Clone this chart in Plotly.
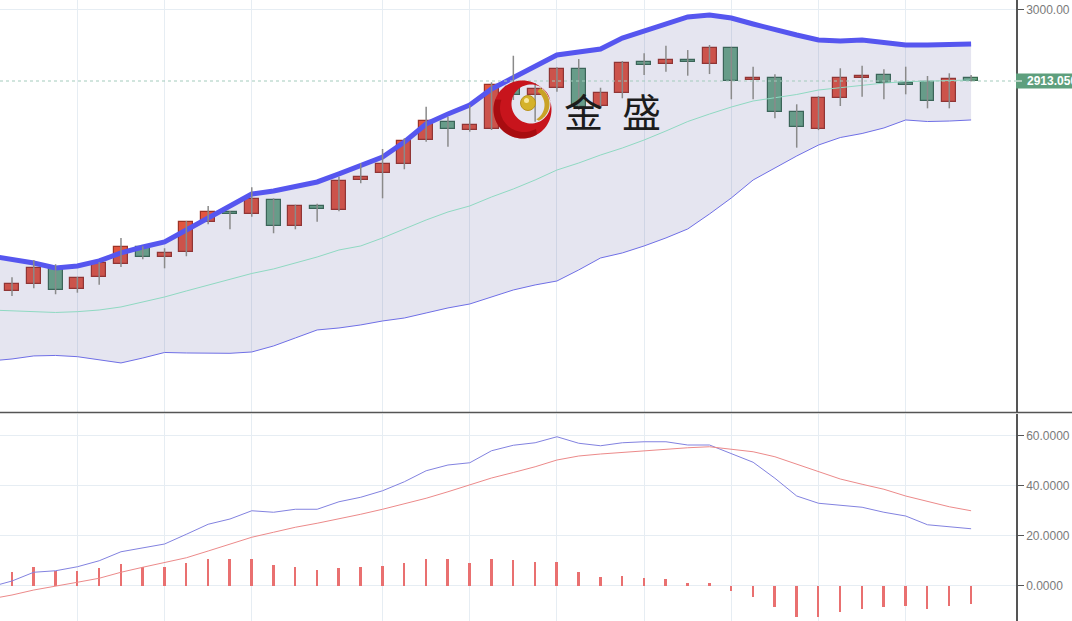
import math
import plotly.graph_objects as go
from plotly.subplots import make_subplots

# ---------------- data ----------------
opens = [2658.0, 2666.5, 2685.9, 2660.4, 2675.7, 2691.1, 2711.4, 2699.3, 2705.3, 2741.7,
         2754.2, 2751.4, 2768.4, 2737.2, 2761.5, 2756.6, 2793.0, 2801.1, 2812.0, 2841.5,
         2863.0, 2854.0, 2855.2, 2905.8, 2896.1, 2904.2, 2927.6, 2883.1, 2898.1, 2936.1,
         2933.7, 2938.5, 2933.7, 2952.7, 2914.6, 2916.3, 2875.8, 2854.5, 2892.1, 2916.3,
         2920.0, 2911.0, 2911.8, 2887.6, 2916.3]
highs = [2675.0, 2696.0, 2690.8, 2675.4, 2693.5, 2722.7, 2712.6, 2710.2, 2743.3, 2761.5,
         2755.0, 2784.1, 2770.8, 2763.0, 2764.3, 2797.0, 2813.2, 2830.6, 2843.6, 2881.9,
         2869.8, 2883.9, 2911.5, 2943.7, 2910.6, 2929.7, 2939.7, 2904.9, 2937.3, 2946.6,
         2955.9, 2950.6, 2956.7, 2953.9, 2930.4, 2921.2, 2884.8, 2894.9, 2928.5, 2931.6,
         2927.2, 2930.4, 2919.1, 2922.4, 2920.3]
lows = [2652.3, 2661.7, 2654.4, 2656.3, 2666.0, 2687.5, 2696.8, 2685.9, 2700.5, 2739.3,
        2733.2, 2748.5, 2728.4, 2733.2, 2742.4, 2755.0, 2789.0, 2770.8, 2806.0, 2839.4,
        2833.4, 2851.6, 2853.6, 2890.0, 2863.7, 2900.1, 2877.9, 2879.1, 2892.1, 2920.3,
        2924.3, 2919.5, 2921.5, 2890.9, 2890.9, 2867.8, 2832.2, 2853.5, 2882.7, 2894.0,
        2890.9, 2896.9, 2879.9, 2879.9, 2912.5]
closes = [2666.5, 2686.6, 2659.2, 2673.8, 2692.3, 2711.4, 2699.3, 2704.5, 2742.1, 2753.8,
          2751.4, 2769.6, 2737.2, 2761.5, 2757.5, 2792.1, 2797.0, 2812.0, 2840.3, 2864.9,
          2854.5, 2859.3, 2908.2, 2896.1, 2903.0, 2927.6, 2881.9, 2898.9, 2935.2, 2932.5,
          2938.5, 2935.7, 2952.7, 2913.4, 2916.3, 2875.8, 2856.9, 2892.4, 2917.1, 2918.7,
          2910.3, 2908.6, 2888.8, 2915.1, 2913.05]

# Bollinger bands (one extra value before the first candle)
boll_upper = [2700.8, 2697.2, 2692.3, 2686.3, 2688.7, 2694.8, 2704.5, 2711.7, 2717.8, 2732.4,
              2746.9, 2761.5, 2776.0, 2779.7, 2785.7, 2790.6, 2800.3, 2811.2, 2820.9, 2839.1,
              2860.9, 2873.0, 2884.0, 2903.4, 2916.7, 2930.0, 2944.6, 2948.2, 2951.9, 2965.2,
              2973.7, 2982.2, 2990.7, 2993.1, 2989.5, 2982.2, 2974.9, 2968.8, 2962.8, 2961.6,
              2962.8, 2960.4, 2956.7, 2956.7, 2957.9, 2957.9]
boll_mid = [2635.3, 2634.1, 2632.9, 2632.3, 2633.3, 2635.3, 2639.0, 2645.0, 2651.1, 2658.4,
            2665.7, 2672.9, 2679.6, 2685.1, 2692.3, 2699.6, 2708.1, 2713.0, 2722.7, 2733.6,
            2744.5, 2754.2, 2761.5, 2772.4, 2782.1, 2793.0, 2805.1, 2813.6, 2823.3, 2831.8,
            2841.5, 2852.4, 2863.9, 2873.0, 2881.5, 2888.8, 2892.4, 2896.7, 2902.1, 2905.2,
            2908.2, 2910.6, 2912.2, 2913.1, 2913.7, 2914.3]
boll_lower = [2573.5, 2575.9, 2579.6, 2580.2, 2578.7, 2574.7, 2571.1, 2577.1, 2583.8, 2583.2,
              2582.8, 2582.8, 2584.4, 2591.7, 2601.4, 2611.1, 2613.5, 2617.2, 2622.0, 2625.6,
              2631.7, 2637.8, 2642.6, 2651.1, 2659.6, 2665.7, 2670.5, 2683.9, 2698.4, 2704.5,
              2713.0, 2722.7, 2733.6, 2751.8, 2771.2, 2793.0, 2807.6, 2822.1, 2835.4, 2844.5,
              2849.4, 2856.1, 2865.8, 2863.9, 2864.5, 2865.8]

# MACD (one extra value before the first candle for the lines)
macd_dif = [-0.5, 1.9, 5.4, 6.0, 7.6, 10.0, 13.6, 15.2, 16.7, 20.6,
            24.6, 26.7, 30.0, 29.4, 30.6, 30.6, 33.6, 35.4, 38.0, 41.6,
            46.0, 48.3, 49.2, 54.0, 56.2, 57.2, 59.6, 57.0, 56.0, 57.2,
            57.6, 57.6, 56.3, 56.3, 53.0, 49.4, 43.0, 35.9, 33.0, 32.3,
            31.4, 29.4, 27.9, 24.4, 23.6, 22.8]
macd_dea = [-5.3, -3.7, -1.7, 0.0, 1.4, 3.0, 5.4, 7.4, 9.2, 11.2,
            13.9, 16.6, 19.4, 21.4, 23.4, 25.0, 26.7, 28.6, 30.6, 32.7,
            35.0, 37.6, 40.2, 43.1, 45.3, 47.6, 50.3, 51.9, 52.7, 53.4,
            54.0, 54.7, 55.2, 55.6, 54.7, 53.6, 51.6, 48.6, 45.4, 42.7,
            40.6, 38.6, 35.9, 33.6, 31.6, 30.0]
macd_hist = [5.4, 7.4, 6.0, 6.1, 7.0, 8.6, 7.6, 7.4, 9.2, 10.6,
             10.6, 10.6, 8.2, 7.4, 6.2, 7.0, 7.4, 7.9, 9.2, 10.8,
             10.6, 9.2, 10.8, 10.4, 9.4, 9.4, 5.5, 3.6, 3.9, 3.1,
             2.7, 1.2, 1.2, -2.0, -4.3, -8.5, -12.4, -12.4, -10.6, -9.2,
             -8.6, -8.2, -9.3, -8.2, -7.3]

last_price = 2913.05
grid_idx = [3, 7, 11, 17, 21, 25, 29, 33, 37, 41]

# ---------------- figure ----------------
W, H = 1072, 621
PLOT_W = 1016
candle_x = list(range(len(closes)))
line_x = list(range(-1, len(closes)))

fig = make_subplots(rows=2, cols=1, shared_xaxes=False, vertical_spacing=0)

RED_FILL, RED_LINE = "#e2553f", "#9c3326"
GRN_FILL, GRN_LINE = "#6dab88", "#3a6a50"

# band fill
fig.add_trace(go.Scatter(x=line_x, y=boll_lower, mode="lines",
                         line=dict(color="#6f6fe6", width=1), hoverinfo="skip"), row=1, col=1)
fig.add_trace(go.Scatter(x=line_x, y=boll_upper, mode="lines", fill="tonexty",
                         fillcolor="rgba(70,70,150,0.14)",
                         line=dict(color="#5656ef", width=5), hoverinfo="skip"), row=1, col=1)
fig.add_trace(go.Scatter(x=line_x, y=boll_mid, mode="lines",
                         line=dict(color="#8fd9c2", width=1), hoverinfo="skip"), row=1, col=1)

# wicks
wx, wy = [], []
for i, (h, l) in enumerate(zip(highs, lows)):
    wx += [i, i, None]
    wy += [l, h, None]
fig.add_trace(go.Scatter(x=wx, y=wy, mode="lines", line=dict(color="#8a8a8a", width=1.5),
                         hoverinfo="skip"), row=1, col=1)

# bodies
up_x, up_b, up_h, dn_x, dn_b, dn_h = [], [], [], [], [], []
for i, (o, c) in enumerate(zip(opens, closes)):
    if c >= o:
        up_x.append(i); up_b.append(o); up_h.append(max(c - o, 0.8))
    else:
        dn_x.append(i); dn_b.append(c); dn_h.append(max(o - c, 0.8))
fig.add_trace(go.Bar(x=up_x, y=up_h, base=up_b, width=0.64, opacity=1,
                     marker=dict(color=RED_FILL, line=dict(color=RED_LINE, width=1.2)),
                     hoverinfo="skip"), row=1, col=1)
fig.add_trace(go.Bar(x=dn_x, y=dn_h, base=dn_b, width=0.64, opacity=1,
                     marker=dict(color=GRN_FILL, line=dict(color=GRN_LINE, width=1.2)),
                     hoverinfo="skip"), row=1, col=1)

# MACD
fig.add_trace(go.Bar(x=candle_x, y=macd_hist, width=0.09, opacity=1,
                     marker=dict(color="#e97070", line=dict(width=0)), hoverinfo="skip"),
              row=2, col=1)
fig.add_trace(go.Scatter(x=line_x, y=macd_dif, mode="lines",
                         line=dict(color="#8282e0", width=1), hoverinfo="skip"), row=2, col=1)
fig.add_trace(go.Scatter(x=line_x, y=macd_dea, mode="lines",
                         line=dict(color="#ec8a8a", width=1), hoverinfo="skip"), row=2, col=1)

xr = [-0.55, 46.06]
axis_font = dict(family="Liberation Sans, Arial, sans-serif", size=12, color="#7a7a7a")
for r in (1, 2):
    fig.update_xaxes(range=xr, tickvals=grid_idx, showticklabels=False, ticks="",
                     showgrid=True, gridcolor="#e6edf3", gridwidth=1, zeroline=False,
                     showline=False, row=r, col=1)

fig.update_layout(
    width=W, height=H, margin=dict(l=0, r=W - PLOT_W, t=0, b=0),
    paper_bgcolor="white", plot_bgcolor="white", showlegend=False,
    barmode="overlay", bargap=0,
    font=axis_font,
    yaxis=dict(domain=[(H - 412) / H, 1], range=[2511.6, 3011.3], side="right",
               tick0=0, dtick=500, tickformat=".2f", ticks="outside", ticklen=6,
               tickcolor="#555", showline=True, linecolor="#555", linewidth=1.5,
               showgrid=True, gridcolor="#e6edf3", zeroline=False, tickfont=axis_font),
    yaxis2=dict(domain=[0, (H - 414) / H], range=[-14.1, 68.7], side="right",
                tickvals=[0, 20, 40, 60], tickformat=".4f", ticks="outside", ticklen=6,
                tickcolor="#555", showline=True, linecolor="#555", linewidth=1.5,
                showgrid=True, gridcolor="#e6edf3", zeroline=False, tickfont=axis_font),
)


def px(x):
    return x / PLOT_W


def py(y):
    return (H - y) / H


def arc(cx, cy, r, a0, a1, n=48):
    pts = []
    for k in range(n + 1):
        a = math.radians(a0 + (a1 - a0) * k / n)
        pts.append((cx + r * math.cos(a), cy + r * math.sin(a)))
    return pts


def path_of(pts):
    return "M " + " L ".join(f"{px(x):.5f},{py(y):.5f}" for x, y in pts) + " Z"


shapes = []
# separator line between panels
shapes.append(dict(type="line", xref="paper", yref="paper", x0=0, x1=W / PLOT_W,
                   y0=py(412.5), y1=py(412.5), line=dict(color="#555", width=1.5)))
# last price dotted line
shapes.append(dict(type="line", xref="paper", yref="y", x0=0, x1=1, y0=last_price,
                   y1=last_price, line=dict(color="#a3cbbc", width=1, dash="dot"), layer="above"))
# price tag
shapes.append(dict(type="rect", xref="paper", yref="y", x0=1.0, x1=W / PLOT_W + 0.01,
                   y0=last_price - 9.0, y1=last_price + 9.0, fillcolor="#5e9f7d",
                   line=dict(width=0), layer="above"))
shapes.append(dict(type="line", xref="paper", yref="y", x0=1.0, x1=px(PLOT_W + 6),
                   y0=last_price, y1=last_price, line=dict(color="white", width=1), layer="above"))

# logo: red crescent
outer = arc(522.5, 109.5, 29, 0, 360, 72)
inner = arc(531, 104, 19.5, 0, 360, 72)
shapes.append(dict(type="path", xref="paper", yref="paper",
                   path=path_of(outer) + " " + path_of(inner), fillrule="evenodd",
                   fillcolor="#c8141c", line=dict(width=0), layer="above"))
shapes.append(dict(type="path", xref="paper", yref="paper",
                   path=path_of(arc(522.5, 109.5, 29, 60, 200, 40) + arc(524, 108, 24, 200, 60, 40)),
                   fillcolor="rgba(120,0,0,0.4)", line=dict(width=0), layer="above"))
# gold swoosh (thin, right side)
sw = arc(531, 104, 18.5, -60, 65, 40) + arc(528, 105, 16.5, 60, -55, 40)
shapes.append(dict(type="path", xref="paper", yref="paper", path=path_of(sw),
                   fillcolor="#c9a227", line=dict(width=0), layer="above"))
# gold ball
shapes.append(dict(type="circle", xref="paper", yref="paper",
                   x0=px(520.5), x1=px(535.5), y0=py(110.5), y1=py(95.5),
                   fillcolor="#d5b22a", line=dict(color="#b8921c", width=1), layer="above"))
shapes.append(dict(type="circle", xref="paper", yref="paper",
                   x0=px(524), x1=px(529), y0=py(103), y1=py(98),
                   fillcolor="rgba(255,245,190,0.8)", line=dict(width=0), layer="above"))
fig.update_layout(shapes=shapes)

ann = []
ann.append(dict(xref="paper", yref="y", x=px(1025), y=last_price, xanchor="left",
                yanchor="middle", text="<b>2913.050</b>", showarrow=False,
                font=dict(family="Liberation Sans, Arial, sans-serif", size=12, color="white")))
for ch, cx in (("金", 583.5), ("盛", 641.5)):
    ann.append(dict(xref="paper", yref="paper", x=px(cx), y=py(110), xanchor="center",
                    yanchor="middle", text=ch, showarrow=False,
                    font=dict(family="Noto Sans CJK SC", size=39, color="#1c1c1c")))
fig.update_layout(annotations=ann)

fig.write_html("out.html", config={"displayModeBar": False},
               post_script="document.body.style.margin='0px';")
